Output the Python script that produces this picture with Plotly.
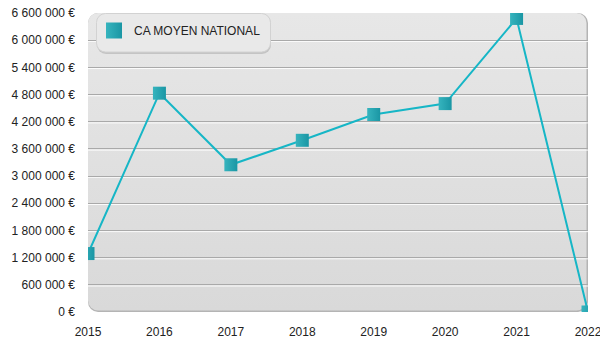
import base64
import plotly.graph_objects as go

# Chiffre d'affaires moyen national par année
years = [2015, 2016, 2017, 2018, 2019, 2020, 2021, 2022]
ca_moyen = [1290000, 4830000, 3250000, 3790000, 4360000, 4600000, 6480000, 0]
series_name = "CA MOYEN NATIONAL"

y_max = 6600000
y_step = 600000

LINE_COLOR = "#16b6c6"
MARKER_COLOR = "#36b4be"
MARKER_COLOR_2 = "#1a96a4"
FONT = "Liberation Sans, Arial, sans-serif"

W, H = 600, 350
M = dict(l=88, r=12, t=13, b=38)
PW = W - M["l"] - M["r"]
PH = H - M["t"] - M["b"]

# Plot-area panel: rounded rectangle with a soft vertical gradient
panel_svg = f"""<svg xmlns='http://www.w3.org/2000/svg' width='{PW}' height='{PH}' viewBox='0 0 {PW} {PH}'>
<defs><linearGradient id='g' x1='0' y1='0' x2='0' y2='1'>
<stop offset='0' stop-color='#e7e7e7'/><stop offset='1' stop-color='#d9d9d9'/></linearGradient></defs>
<rect x='0' y='0' width='{PW}' height='{PH}' rx='10' ry='10' fill='#b4b4b4'/>
<rect x='0' y='0' width='{PW - 1.5}' height='{PH - 1.5}' rx='10' ry='10' fill='url(#g)'/>
</svg>"""
panel_src = "data:image/svg+xml;base64," + base64.b64encode(panel_svg.encode()).decode()

# Legend box: rounded, light with a small drop shadow
LW, LH = 176, 41
legend_svg = f"""<svg xmlns='http://www.w3.org/2000/svg' width='{LW}' height='{LH}' viewBox='0 0 {LW} {LH}'>
<rect x='1' y='2' width='{LW - 2}' height='{LH - 2}' rx='9' ry='9' fill='#c4c4c4'/>
<rect x='0.5' y='0.5' width='{LW - 2}' height='{LH - 2.5}' rx='9' ry='9' fill='#e9e9e9' stroke='#d2d2d2' stroke-width='1'/>
</svg>"""
legend_src = "data:image/svg+xml;base64," + base64.b64encode(legend_svg.encode()).decode()

fig = go.Figure()

fig.add_trace(go.Scatter(
    x=years, y=ca_moyen, mode="lines+markers",
    line=dict(color=LINE_COLOR, width=2),
    marker=dict(symbol="square", size=13, color=MARKER_COLOR,
                gradient=dict(type="horizontal", color=MARKER_COLOR_2),
                line=dict(width=0)),
    showlegend=False, hoverinfo="x+y",
))

# Legend entry (square swatch only)
fig.add_trace(go.Scatter(
    x=[None], y=[None], mode="markers", name=series_name,
    marker=dict(symbol="square", size=20, color=MARKER_COLOR,
                gradient=dict(type="horizontal", color=MARKER_COLOR_2),
                line=dict(width=0)),
    showlegend=True,
))

# White highlight under each gridline for an embossed look
px_per_unit = PH / y_max
for v in range(y_step, y_max, y_step):
    fig.add_shape(type="line", xref="paper", yref="y", x0=0, x1=1,
                  y0=v - 1.2 / px_per_unit, y1=v - 1.2 / px_per_unit,
                  line=dict(color="rgba(255,255,255,0.9)", width=1), layer="below")

fig.update_layout(
    width=W, height=H, margin=M,
    paper_bgcolor="white", plot_bgcolor="rgba(0,0,0,0)",
    font=dict(family=FONT, size=12, color="#222222"),
    separators=", ",
    images=[
        dict(source=panel_src, xref="paper", yref="paper", x=0, y=1,
             sizex=1, sizey=1, xanchor="left", yanchor="top",
             sizing="stretch", layer="below"),
        dict(source=legend_src, xref="paper", yref="paper",
             x=8 / PW, y=1, sizex=LW / PW, sizey=LH / PH,
             xanchor="left", yanchor="top", sizing="stretch", layer="above"),
    ],
    legend=dict(x=6 / PW, y=1 - 3 / PH, xanchor="left", yanchor="top",
                bgcolor="rgba(0,0,0,0)", borderwidth=0,
                font=dict(family=FONT, size=12, color="#222222"),
                itemsizing="trace"),
    xaxis=dict(range=[years[0], years[-1]], tickmode="array", tickvals=years,
               ticktext=[str(y) for y in years], showgrid=False, zeroline=False,
               showline=False, ticks="", ticklabelstandoff=11,
               ticklabeloverflow="allow", automargin=False,
               tickfont=dict(size=12, color="#222222")),
    yaxis=dict(range=[0, y_max], dtick=y_step, tick0=0, tickformat=",d",
               ticksuffix=" €", showgrid=True, gridcolor="#a9a9a9", gridwidth=1,
               zeroline=False, showline=False, ticks="", ticklabelstandoff=12,
               automargin=False, tickfont=dict(size=12, color="#222222")),
)

fig.write_html("out.html")
